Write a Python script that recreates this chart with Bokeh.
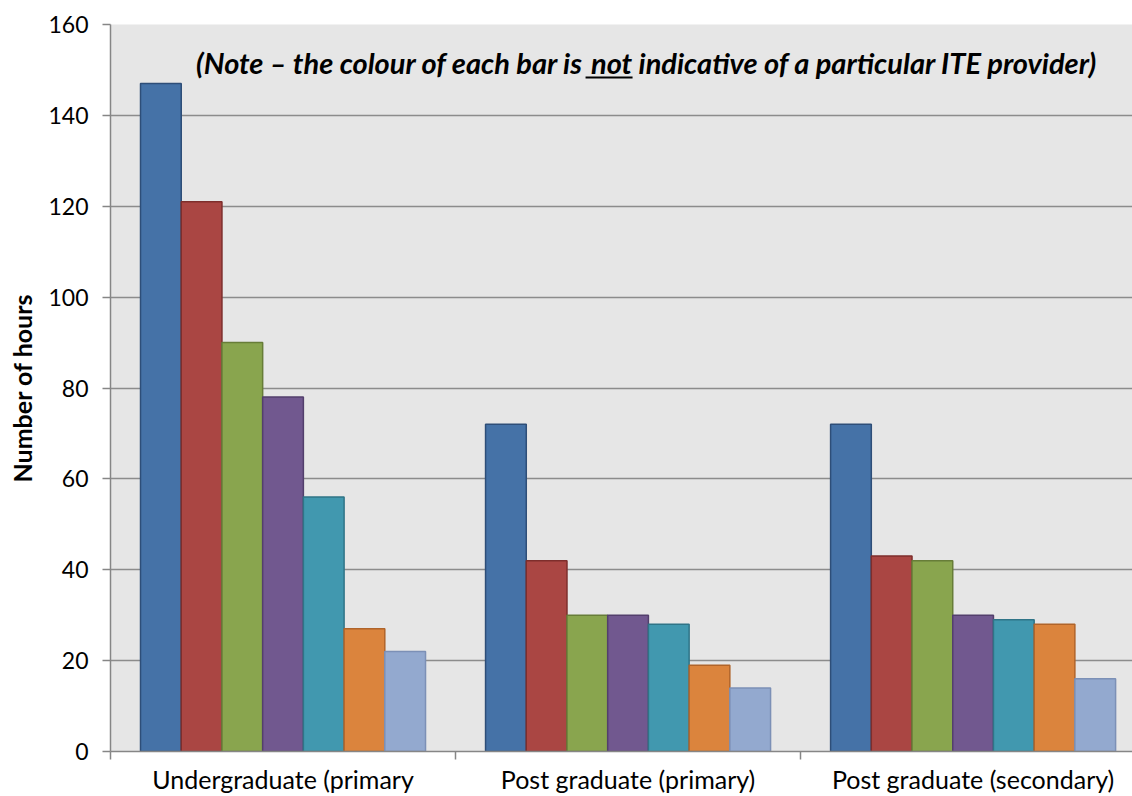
from bokeh.plotting import figure
from bokeh.models import Range1d, FixedTicker, ColumnDataSource
from bokeh.core.properties import value
from bokeh.embed import file_html
from bokeh.resources import INLINE

# ---- data ----
categories = ["Undergraduate (primary", "Post graduate (primary)", "Post graduate (secondary)"]
provider_1 = [147, 72, 72]
provider_2 = [121, 42, 43]
provider_3 = [90, 30, 42]
provider_4 = [78, 30, 30]
provider_5 = [56, 28, 29]
provider_6 = [27, 19, 28]
provider_7 = [22, 14, 16]
series = [provider_1, provider_2, provider_3, provider_4, provider_5, provider_6, provider_7]
y_ticks = [0, 20, 40, 60, 80, 100, 120, 140, 160]
note_parts = ["(Note \u2013 the colour of each bar is", "not", "indicative of a particular ITE provider)"]

fills = ["#4572A7", "#AA4643", "#89A54E", "#71588F", "#4198AF", "#DB843D", "#93A9CF"]
lines = ["#2E4E78", "#7E2E2C", "#677D38", "#533F6C", "#2F7487", "#B0642A", "#7C90B6"]

FONT = "Lato"
BAR_W = 0.118  # in category units
X_END = 2.962  # plot extends beyond the visible page on the right

p = figure(width=1132, height=796, output_backend="svg", toolbar_location=None,
           x_range=Range1d(0, X_END), y_range=Range1d(0, 160),
           min_border_left=110, min_border_right=0, min_border_top=24, min_border_bottom=45)
p.background_fill_color = "#E6E6E6"
p.border_fill_color = "white"
p.outline_line_color = None

n = len(series)
for i, vals in enumerate(series):
    xs = [c + 0.5 + (i - (n - 1) / 2) * BAR_W for c in range(len(categories))]
    src = ColumnDataSource(dict(x=xs, top=vals))
    p.vbar(x="x", top="top", bottom=0, width=BAR_W, source=src,
           fill_color=fills[i], line_color=lines[i], line_width=1.5)

# y axis
p.yaxis.ticker = FixedTicker(ticks=y_ticks)
p.yaxis.axis_label = "Number of hours"
p.yaxis.axis_label_text_font = FONT
p.yaxis.axis_label_text_font_style = "bold"
p.yaxis.axis_label_text_font_size = "25px"
p.yaxis.axis_label_text_color = "black"
p.yaxis.axis_label_standoff = 8
p.yaxis.major_label_text_font = FONT
p.yaxis.major_label_text_font_size = "23px"
p.yaxis.major_label_text_color = "black"
p.yaxis.major_label_standoff = 14
p.yaxis.major_tick_out = 8
p.yaxis.major_tick_in = 0
p.yaxis.minor_tick_line_color = None
p.yaxis.axis_line_color = "#868686"
p.yaxis.axis_line_width = 1.5
p.yaxis.major_tick_line_color = "#868686"
p.yaxis.major_tick_line_width = 1.5

# x axis
centers = [c + 0.5 for c in range(len(categories))]
bounds = [float(c) for c in range(len(categories) + 1)]
p.xaxis.ticker = FixedTicker(ticks=centers, minor_ticks=bounds)
p.xaxis.major_label_overrides = {c: lab for c, lab in zip(centers, categories)}
p.xaxis.major_label_text_font = FONT
p.xaxis.major_label_text_font_size = "25px"
p.xaxis.major_label_text_color = "black"
p.xaxis.major_label_standoff = 4
p.xaxis.major_tick_line_color = None
p.xaxis.major_tick_out = 0
p.xaxis.major_tick_in = 0
p.xaxis.minor_tick_out = 8
p.xaxis.minor_tick_in = 0
p.xaxis.minor_tick_line_color = "#868686"
p.xaxis.minor_tick_line_width = 1.5
p.xaxis.axis_line_color = "#868686"
p.xaxis.axis_line_width = 1.5

p.xgrid.grid_line_color = None
p.ygrid.ticker = FixedTicker(ticks=y_ticks)
p.ygrid.grid_line_color = "#8C8C8C"
p.ygrid.grid_line_width = 1.5

# note text placement helpers (pixel guides -> data units)
PX = 345.0   # pixels per category unit
PY = 727.0 / 160.0
def dx(px):
    return (px - 110) / PX
def dy(py):
    return (751 - py) / PY

note_src = ColumnDataSource(dict(x=[dx(583), dx(611), dx(638)], y=[dy(62)] * 3,
                                 t=note_parts, a=["right", "center", "left"]))
p.text(x="x", y="y", text="t", text_align="a", source=note_src,
       text_font=value(FONT), text_font_style="bold italic", text_font_size="29px",
       text_color="black", text_baseline="alphabetic")
p.segment(x0=[dx(585)], y0=[dy(77)], x1=[dx(632)], y1=[dy(77)], line_color="black", line_width=2)

open("out.html", "w").write(file_html(p, INLINE))
